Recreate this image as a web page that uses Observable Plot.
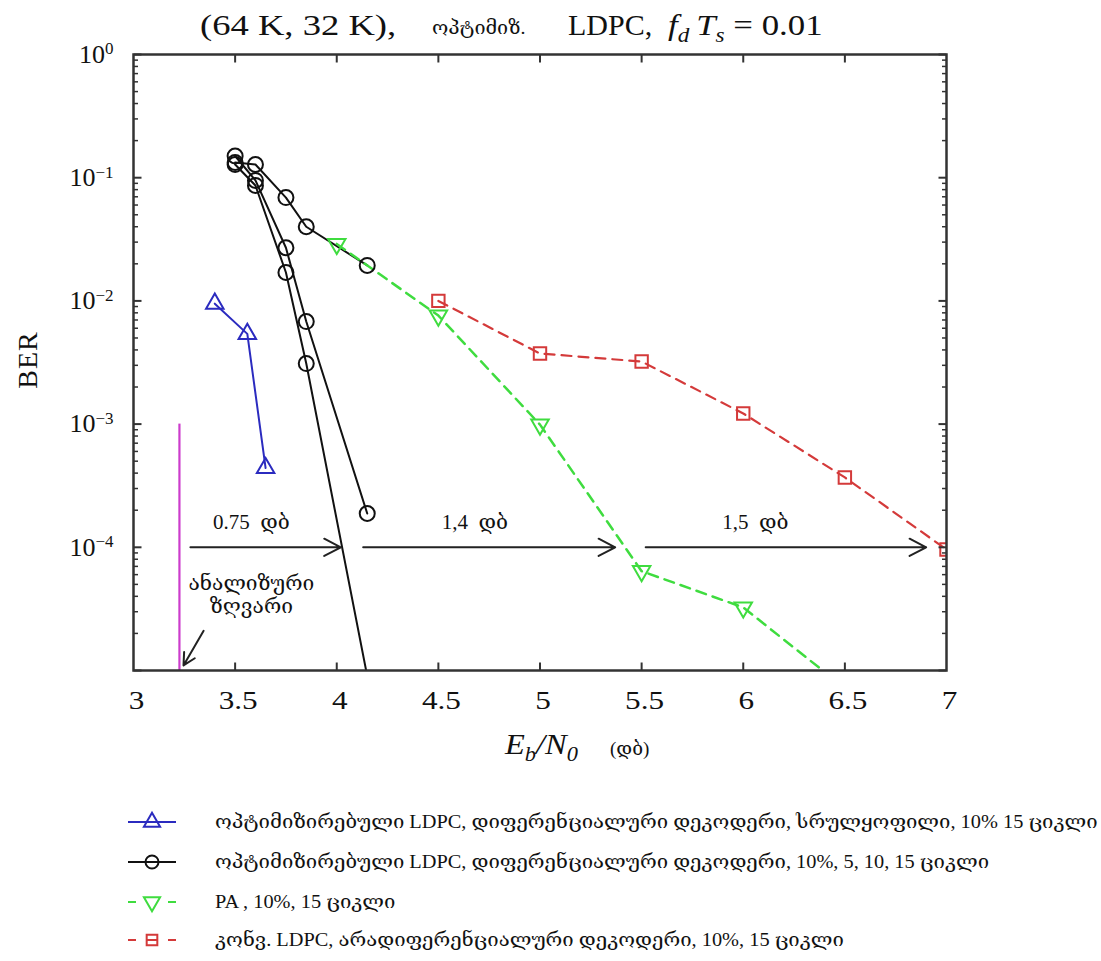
<!DOCTYPE html>
<html><head><meta charset="utf-8">
<script src="https://cdn.jsdelivr.net/npm/d3@7"></script>
<script src="https://cdn.jsdelivr.net/npm/@observablehq/plot@0.6"></script>
<style>
body{margin:0;background:#fff;}
#wrap{position:relative;width:1101px;height:961px;font-family:"Liberation Serif","DejaVu Serif","DejaVu Sans",serif;color:#111;overflow:hidden;}
#chart{position:absolute;left:0;top:0;}
.tp{position:absolute;top:8px;white-space:nowrap;transform-origin:0 50%;}
#tA{left:200px;font-size:30px;transform:scaleX(1.22);}
#tB{left:432px;top:17px;font-size:18px;transform:scaleX(1.1);}
#tC{left:568px;font-size:30px;transform:scaleX(1.0);}
#tD{left:668px;font-size:30px;transform:scaleX(1.16);}
#xlab{position:absolute;left:505px;top:728px;font-size:29px;white-space:nowrap;transform:scaleX(1.12);transform-origin:0 50%;}
#xunit{position:absolute;left:610px;top:737px;font-size:19px;white-space:nowrap;}
#ylab{position:absolute;left:28px;top:360px;font-size:28px;letter-spacing:1px;transform:translate(-50%,-50%) rotate(-90deg);white-space:nowrap;}
.row{position:absolute;left:126px;height:30px;display:flex;align-items:center;white-space:nowrap;font-size:18px;}
.row svg{flex:none;}
.row span{margin-left:37px;display:inline-block;transform:scaleX(1.13);transform-origin:0 50%;}
</style></head>
<body>
<div id="wrap">
  <div id="chart"></div>
  <div class="tp" id="tA">(64 K, 32 K),</div>
  <div class="tp" id="tB">ოპტიმიზ.</div>
  <div class="tp" id="tC">LDPC,</div>
  <div class="tp" id="tD"><i>f<sub style="font-size:20px">d</sub>&#8201;T<sub style="font-size:20px">s</sub></i> = 0.01</div>
  <div id="xlab"><i>E<sub style="font-size:20px">b</sub>/N<sub style="font-size:20px">0</sub></i></div>
  <div id="xunit">(დბ)</div>
  <div id="ylab">BER</div>
  <div id="legend"></div>
</div>
<script>
// ---- data ----
const blueX = [3.40, 3.56, 3.65];
const blueY = [9.5e-3, 5.4e-3, 4.4e-4];

const black5X = [3.5, 3.6, 3.75, 3.85, 4.15];
const black5Y = [0.133, 0.128, 0.069, 0.040, 0.0194];
const black10X = [3.5, 3.6, 3.75, 3.85, 4.15];
const black10Y = [0.150, 0.095, 0.027, 0.0068, 1.88e-4];
const black15X = [3.5, 3.6, 3.75, 3.85, 4.2];
const black15Y = [0.128, 0.0865, 0.017, 0.0031, 3.4e-6];

const greenX = [4.0, 4.5, 5.0, 5.5, 6.0, 6.5];
const greenY = [0.029, 7.6e-3, 9.9e-4, 6.4e-5, 3.25e-5, 7.2e-6];

const redX = [4.5, 5.0, 5.5, 6.0, 6.5, 7.0];
const redY = [0.01, 3.74e-3, 3.22e-3, 1.22e-3, 3.69e-4, 9.6e-5];

// analytic threshold line
const threshX = [3.226];
const threshTop = 1e-3;

// annotation arrows (gap arrows at BER 1e-4)
const gapX1 = [3.28, 4.13, 5.52];
const gapX2 = [4.02, 5.37, 6.90];
const gapY = 1e-4;
const ptrFrom = {x: 3.345, y: 2.1e-5};
const ptrTo = {x: 3.246, y: 1.1e-5};

const annText = ["0.75  დბ", "1,4  დბ", "1,5  დბ", "ანალიზური\nზღვარი"];
const annX = [3.58, 4.68, 6.06, 3.58];
const annY = [1.62e-4, 1.62e-4, 1.62e-4, 4.2e-5];

// axes
const xDomain = [3, 7];
const yDomain = [1e-5, 1];
const xTicks = [3, 3.5, 4, 4.5, 5, 5.5, 6, 6.5, 7];
const xTickLabels = ["3", "3.5", "4", "4.5", "5", "5.5", "6", "6.5", "7"];
const yMajor = [1, 1e-1, 1e-2, 1e-3, 1e-4, 1e-5];
const yLabelExp = ["0", "−1", "−2", "−3", "−4"];

// legend
const legendLabels = [
  "ოპტიმიზირებული LDPC, დიფერენციალური დეკოდერი, სრულყოფილი, 10% 15 ციკლი",
  "ოპტიმიზირებული LDPC, დიფერენციალური დეკოდერი, 10%, 5, 10, 15 ციკლი",
  "PA , 10%, 15 ციკლი",
  "კონვ. LDPC, არადიფერენციალური დეკოდერი, 10%, 15 ციკლი"
];

const BLUE = "#2b2bbf", BLACK = "#111", GREEN = "#3fdc3f", RED = "#d43a3a", MAG = "#cc3ccc", AX = "#333";
const MAJ = 8, MIN = 4.5;

// ---- build tables ----
const mk = (xs, ys, s) => xs.map((x, i) => ({x, y: ys[i], s}));
const blue = mk(blueX, blueY, "b");
const black = [...mk(black5X, black5Y, "5"), ...mk(black10X, black10Y, "10"), ...mk(black15X, black15Y, "15")];
const green = mk(greenX, greenY, "g");
const red = mk(redX, redY, "r");
const gaps = gapX1.map((x1, i) => ({x1, x2: gapX2[i], y: gapY}));
const ann = annText.map((t, i) => ({t, x: annX[i], y: annY[i]}));
const yMinor = [];
for (let k = -5; k <= -1; k++) for (let m = 2; m <= 9; m++) yMinor.push(m * Math.pow(10, k));

const FONT = "Liberation Serif, DejaVu Serif, DejaVu Sans, serif";
const W = 1101, H = 790, ML = 133, MR = 155, MT = 54, MB = 120;
// pixel -> data-unit conversions for the inward tick lengths
const pxPerX = (W - ML - MR) / (xDomain[1] - xDomain[0]);
const pxPerDecade = (H - MT - MB) / Math.log10(yDomain[1] / yDomain[0]);
const dxOf = px => px / pxPerX;
const fyOf = px => Math.pow(10, px / pxPerDecade);

const innerX = xTicks.slice(1, -1);
const xTickSegs = [
  ...innerX.map(x => ({x1: x, x2: x, y1: yDomain[0], y2: yDomain[0] * fyOf(MAJ)})),
  ...innerX.map(x => ({x1: x, x2: x, y1: yDomain[1], y2: yDomain[1] / fyOf(MAJ)}))
];
const yTickSegs = [];
for (const y of yMajor) {
  yTickSegs.push({x1: xDomain[0], x2: xDomain[0] + dxOf(MAJ), y1: y, y2: y, w: 2});
  yTickSegs.push({x1: xDomain[1], x2: xDomain[1] - dxOf(MAJ), y1: y, y2: y, w: 2});
}
for (const y of yMinor) {
  yTickSegs.push({x1: xDomain[0], x2: xDomain[0] + dxOf(MIN), y1: y, y2: y, w: 1.5});
  yTickSegs.push({x1: xDomain[1], x2: xDomain[1] - dxOf(MIN), y1: y, y2: y, w: 1.5});
}

const chart = Plot.plot({
  width: W, height: H,
  marginLeft: ML, marginRight: MR, marginTop: MT, marginBottom: MB,
  x: {domain: xDomain},
  y: {type: "log", domain: yDomain},
  style: {fontFamily: FONT, fontSize: "26px", color: "#111", background: "transparent", overflow: "visible"},
  marks: [
    Plot.ruleX(threshX, {x: d => d, y1: threshTop, y2: 1e-5, stroke: MAG, strokeWidth: 2.2}),
    Plot.line(black, {x: "x", y: "y", z: "s", stroke: BLACK, strokeWidth: 2, clip: true}),
    Plot.line(green, {x: "x", y: "y", stroke: GREEN, strokeWidth: 2.5, strokeDasharray: "10,7", clip: true}),
    Plot.line(red, {x: "x", y: "y", stroke: RED, strokeWidth: 2.2, strokeDasharray: "10,7", clip: true}),
    Plot.line(blue, {x: "x", y: "y", stroke: BLUE, strokeWidth: 2, clip: true}),
    Plot.dot(black, {x: "x", y: "y", r: 7.5, stroke: BLACK, strokeWidth: 2, fill: "none", clip: true}),
    Plot.dot(green, {x: "x", y: "y", symbol: "triangle", rotate: 180, r: 6.5, stroke: GREEN, strokeWidth: 2, fill: "none", clip: true}),
    Plot.dot(red, {x: "x", y: "y", symbol: "square", r: 7, stroke: RED, strokeWidth: 2, fill: "none", clip: true}),
    Plot.dot(blue, {x: "x", y: "y", symbol: "triangle", r: 6.5, stroke: BLUE, strokeWidth: 2, fill: "none", clip: true}),
    Plot.arrow(gaps, {x1: "x1", x2: "x2", y1: "y", y2: "y", stroke: "#222", strokeWidth: 2, headLength: 14, headAngle: 55}),
    Plot.arrow([ptrFrom], {x1: "x", y1: "y", x2: () => ptrTo.x, y2: () => ptrTo.y, stroke: "#222", strokeWidth: 2, headLength: 14, headAngle: 55}),
    Plot.text(ann, {x: "x", y: "y", text: "t", fontSize: 21, lineHeight: 1.1, fill: "#111", fontFamily: FONT}),
    // inward ticks
    Plot.link(xTickSegs, {x1: "x1", x2: "x2", y1: "y1", y2: "y2", stroke: AX, strokeWidth: 2}),
    Plot.link(yTickSegs, {x1: "x1", x2: "x2", y1: "y1", y2: "y2", stroke: AX, strokeWidth: "w"}),
    Plot.frame({stroke: AX, strokeWidth: 2.5}),
    // tick labels
    Plot.axisX(xTicks, {anchor: "bottom", tickSize: 0, tickPadding: 20, label: null, dx: 3,
      tickFormat: d => xTickLabels[xTicks.indexOf(d)], fontSize: 26}),
    Plot.axisY(yMajor.slice(0, 5), {anchor: "left", tickSize: 0, tickPadding: 20, label: null,
      tickFormat: d => "10^" + yLabelExp[yMajor.indexOf(d)], fontSize: 26})
  ]
});
document.getElementById("chart").appendChild(chart);

// superscript exponents on the y tick labels
chart.querySelectorAll('g[aria-label="y-axis tick label"] text').forEach(t => {
  const s = t.textContent;
  if (!s.includes("^")) return;
  const [b, e] = s.split("^");
  t.textContent = b;
  const ts = document.createElementNS("http://www.w3.org/2000/svg", "tspan");
  ts.setAttribute("dy", "-0.5em");
  ts.setAttribute("font-size", "17");
  ts.textContent = e;
  t.appendChild(ts);
});
chart.querySelectorAll('g[aria-label="x-axis tick label"] text').forEach(t => {
  const w = t.getComputedTextLength();
  t.setAttribute("textLength", (w * 1.2).toFixed(1));
  t.setAttribute("lengthAdjust", "spacingAndGlyphs");
});

// ---- legend ----
const legendSeries = [
  {color: BLUE, symbol: d3.symbolTriangle, rotate: 0, dash: false, r: 6},
  {color: BLACK, symbol: d3.symbolCircle, rotate: 0, dash: false, r: 6.5},
  {color: GREEN, symbol: d3.symbolTriangle, rotate: 180, dash: true, r: 6},
  {color: RED, symbol: d3.symbolSquare, rotate: 0, dash: true, r: 6}
];
const rowY = [822, 862, 902, 940];
const leg = document.getElementById("legend");
legendSeries.forEach((s, i) => {
  const row = document.createElement("div");
  row.className = "row";
  row.style.top = (rowY[i] - 15) + "px";
  const svg = d3.create("svg").attr("width", 52).attr("height", 30);
  const ln = svg.append("line").attr("x1", 2).attr("x2", 50).attr("y1", 15).attr("y2", 15)
    .attr("stroke", s.color).attr("stroke-width", 2);
  if (s.dash) ln.attr("stroke-dasharray", "8,32");
  if (s.dash) svg.append("line").attr("x1", 42).attr("x2", 50).attr("y1", 15).attr("y2", 15)
    .attr("stroke", s.color).attr("stroke-width", 2);
  svg.append("path").attr("d", d3.symbol(s.symbol, Math.PI * s.r * s.r)())
    .attr("transform", `translate(26,15) rotate(${s.rotate})`)
    .attr("fill", "none").attr("stroke", s.color).attr("stroke-width", 2);
  if (s.symbol === d3.symbolSquare) svg.append("line").attr("x1", 21).attr("x2", 31).attr("y1", 15).attr("y2", 15)
    .attr("stroke", s.color).attr("stroke-width", 2);
  row.appendChild(svg.node());
  const sp = document.createElement("span");
  sp.textContent = legendLabels[i];
  row.appendChild(sp);
  leg.appendChild(row);
});
</script>
</body></html>
